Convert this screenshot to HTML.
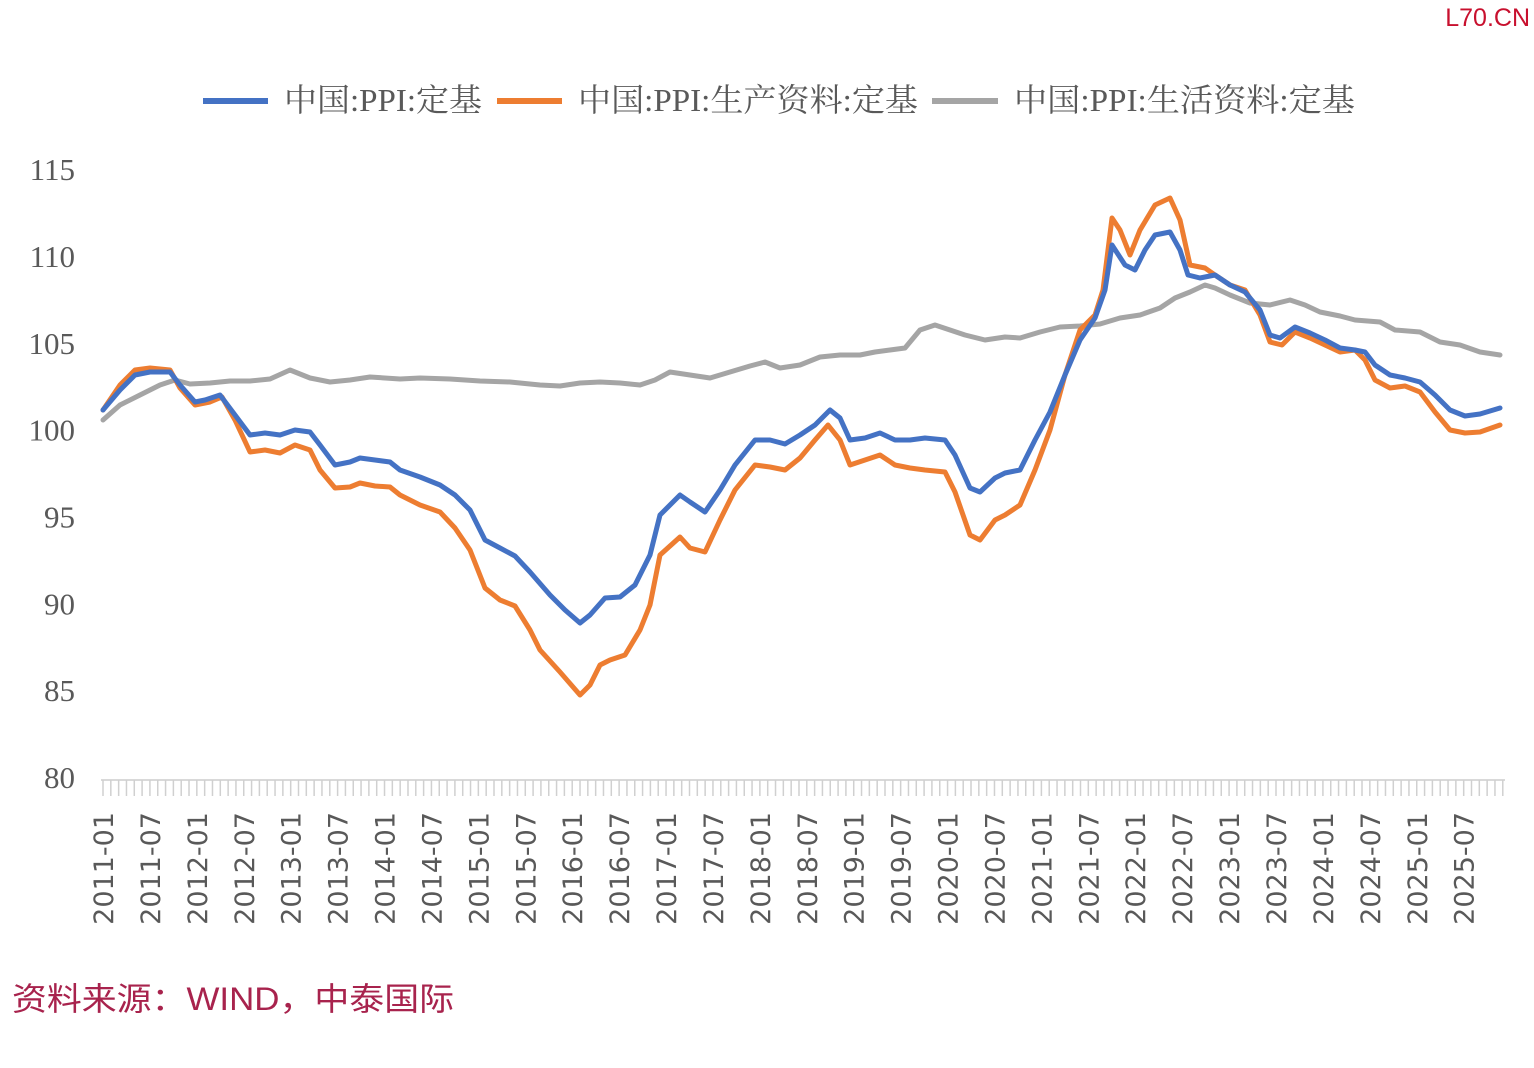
<!DOCTYPE html>
<html><head><meta charset="utf-8"><style>
body{margin:0;background:#fff;}
svg{display:block;}
</style></head><body>
<svg id="c" width="1534" height="1068" xmlns="http://www.w3.org/2000/svg">
<rect width="1534" height="1068" fill="#fff"/>
<text x="1530" y="26" text-anchor="end" font-family="Liberation Sans, sans-serif" font-size="25" fill="#c8102e">L70.CN</text>
<g font-family="'Liberation Serif','Noto Serif CJK SC',serif" font-size="32" fill="#595959">
<line x1="203" y1="101" x2="268" y2="101" stroke="#4472c4" stroke-width="6"/>
<text x="284" y="111" textLength="198" lengthAdjust="spacingAndGlyphs">中国:PPI:定基</text>
<line x1="497" y1="101" x2="562" y2="101" stroke="#ed7d31" stroke-width="6"/>
<text x="578" y="111" textLength="340" lengthAdjust="spacingAndGlyphs">中国:PPI:生产资料:定基</text>
<line x1="932" y1="101" x2="998" y2="101" stroke="#a5a5a5" stroke-width="6"/>
<text x="1014" y="111" textLength="341" lengthAdjust="spacingAndGlyphs">中国:PPI:生活资料:定基</text>
</g>
<g id="yl" font-family="'Liberation Serif',serif" font-size="31" fill="#595959" text-anchor="end"></g>
<g id="ax"></g>
<g id="xl" font-family="'DejaVu Sans','Liberation Sans',sans-serif" font-size="27" fill="#595959"></g>
<g id="series" fill="none" stroke-width="5" stroke-linejoin="round" stroke-linecap="round"></g>
<text x="12" y="1010" font-family="'Liberation Sans','Noto Sans CJK SC',sans-serif" font-size="32" fill="#a8234d" textLength="442" lengthAdjust="spacingAndGlyphs">资料来源：WIND，中泰国际</text>
</svg>
<script>
const NS="http://www.w3.org/2000/svg";
function el(t,a,p,txt){const e=document.createElementNS(NS,t);for(const k in a)e.setAttribute(k,a[k]);if(txt!==undefined)e.textContent=txt;p.appendChild(e);return e;}
const yl=document.getElementById('yl');
for(let v=80;v<=115;v+=5){const y=778-(v-80)*17.37;el('text',{x:75,y:y+10},yl,String(v));}
const ax=document.getElementById('ax');
el('line',{x1:101,y1:780,x2:1505,y2:780,stroke:'#d9d9d9','stroke-width':2},ax);
for(let m=0;m<=179;m++){const x=103+m*7.82;el('line',{x1:x,y1:780,x2:x,y2:796,stroke:'#d0d0d0','stroke-width':1.5},ax);}
const xl=document.getElementById('xl');
for(let i=0;i<30;i++){const yr=2011+Math.floor(i/2);const mo=i%2?'07':'01';const x=103+i*46.92+10;
el('text',{x:x,y:812,transform:`rotate(-90 ${x} 812)`,'text-anchor':'end'},xl,yr+'-'+mo);}
const S=document.getElementById('series');
const grey=[[103,420],[120,405],[140,395],[160,385],[175,380],[190,384],[210,383],[230,381],[250,381],[270,379],[290,370],[310,378],[330,382],[350,380],[370,377],[400,379],[420,378],[450,379],[480,381],[510,382],[540,385],[560,386],[580,383],[600,382],[620,383],[640,385],[655,380],[670,372],[690,375],[710,378],[730,372],[750,366],[765,362],[780,368],[800,365],[820,357],[840,355],[860,355],[875,352],[890,350],[905,348],[920,330],[935,325],[950,330],[965,335],[985,340],[1005,337],[1020,338],[1040,332],[1060,327],[1080,326],[1100,324],[1120,318],[1140,315],[1160,308],[1175,298],[1190,292],[1205,285],[1215,288],[1230,295],[1250,303],[1270,305],[1290,300],[1305,305],[1320,312],[1340,316],[1355,320],[1380,322],[1395,330],[1420,332],[1440,342],[1460,345],[1480,352],[1500,355]];
const orange=[[103,410],[120,385],[135,370],[150,368],[170,370],[180,388],[195,405],[210,402],[222,397],[235,420],[250,452],[265,450],[280,453],[295,445],[310,450],[320,470],[335,488],[350,487],[360,483],[375,486],[390,487],[400,495],[420,505],[440,512],[455,528],[470,550],[485,588],[500,600],[515,606],[530,630],[540,650],[560,672],[580,695],[590,685],[600,665],[610,660],[625,655],[640,630],[650,605],[660,555],[680,537],[690,548],[705,552],[720,520],[735,490],[755,465],[770,467],[785,470],[800,458],[815,440],[828,425],[840,440],[850,465],[865,460],[880,455],[895,465],[910,468],[925,470],[945,472],[955,492],[970,535],[980,540],[995,520],[1005,515],[1020,505],[1035,470],[1050,430],[1065,375],[1080,330],[1095,315],[1103,290],[1112,218],[1120,230],[1130,255],[1140,230],[1155,205],[1170,198],[1180,220],[1190,265],[1205,268],[1215,275],[1230,285],[1245,290],[1260,315],[1270,342],[1282,345],[1295,332],[1310,338],[1325,345],[1340,352],[1355,350],[1365,360],[1375,380],[1390,388],[1405,386],[1420,392],[1435,412],[1450,430],[1465,433],[1480,432],[1500,425]];
const blue=[[103,410],[120,390],[135,375],[150,372],[170,372],[180,385],[195,402],[205,400],[220,395],[235,415],[250,435],[265,433],[280,435],[295,430],[310,432],[320,445],[335,465],[350,462],[360,458],[375,460],[390,462],[400,470],[420,477],[440,485],[455,495],[470,510],[485,540],[500,548],[515,556],[530,572],[550,595],[565,610],[580,623],[590,615],[605,598],[620,597],[635,585],[650,555],[660,515],[680,495],[690,502],[705,512],[720,490],[735,465],[755,440],[770,440],[785,444],[800,435],[815,425],[830,410],[840,418],[850,440],[865,438],[880,433],[895,440],[910,440],[925,438],[945,440],[955,455],[970,488],[980,492],[995,478],[1005,473],[1020,470],[1035,440],[1050,412],[1065,375],[1080,340],[1095,318],[1105,290],[1112,245],[1125,265],[1135,270],[1145,250],[1155,235],[1170,232],[1180,250],[1188,275],[1200,278],[1215,275],[1230,285],[1245,292],[1260,310],[1270,335],[1280,338],[1295,327],[1310,333],[1325,340],[1340,348],[1355,350],[1365,352],[1375,365],[1390,375],[1405,378],[1420,382],[1435,395],[1450,410],[1465,416],[1480,414],[1500,408]];
[[grey,'#a5a5a5'],[orange,'#ed7d31'],[blue,'#4472c4']].forEach(([d,c])=>{
el('polyline',{points:d.map(p=>p.join(',')).join(' '),stroke:c},S);});
</script>
</body></html>
